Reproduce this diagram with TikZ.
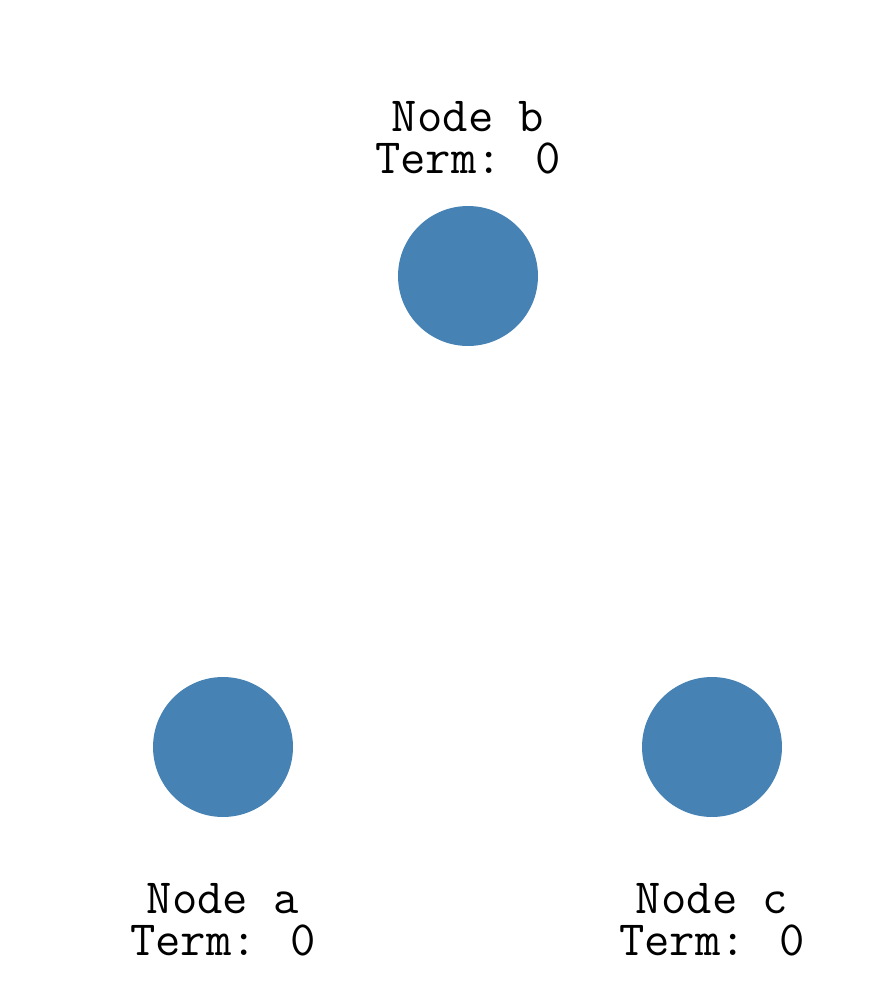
\documentclass[tikz,border=0pt]{standalone}
\usetikzlibrary{positioning}
\definecolor{steel}{HTML}{4682B4}

\begin{document}
\begin{tikzpicture}[x=0.02cm,y=-0.02cm,
		dot/.style={circle,fill=steel,minimum size=2.8cm,inner sep=0pt},
		lbl/.style={font=\ttfamily\fontsize{28}{23.9}\selectfont,align=center,anchor=base,inner sep=0pt}]
		\useasboundingbox (0,0) rectangle (876,998);
		\node[dot] (b) at (468,276) {};
		\node[lbl] (blabel) at (468,173) {Node b\\Term: 0};
		\node[dot] (a) at (223,747) {};
		\node[lbl] (alabel) at (223,955) {Node a\\Term: 0};
		\node[dot] (c) at (712,747) {};
		\node[lbl] (clabel) at (712,955) {Node c\\Term: 0};
		
		\end{tikzpicture}
\end{document}
